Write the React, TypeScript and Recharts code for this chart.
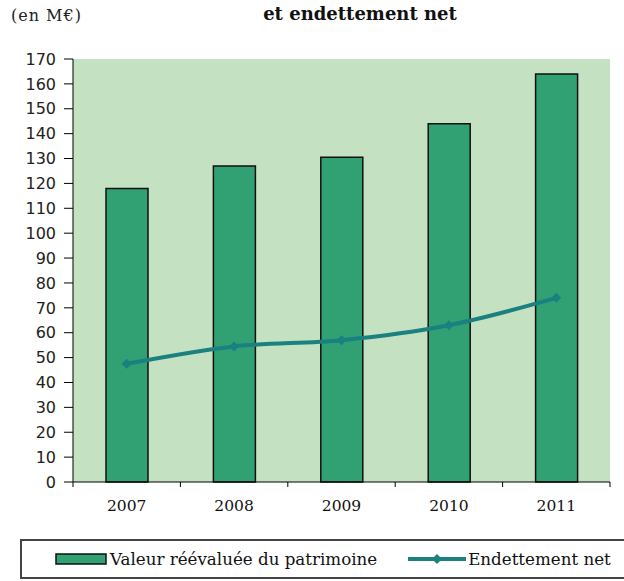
import React from "react";
import {
  ComposedChart,
  Bar,
  Line,
  XAxis,
  YAxis,
  CartesianGrid,
  Legend,
} from "recharts";

const years = ["2007", "2008", "2009", "2010", "2011"];
const patrimoine = [118, 127, 130.5, 144, 164];
const endettement = [47.5, 54.5, 57, 63, 74];
const yTicks = [0, 10, 20, 30, 40, 50, 60, 70, 80, 90, 100, 110, 120, 130, 140, 150, 160, 170];

const data = years.map((year, i) => ({
  year,
  patrimoine: patrimoine[i],
  endettement: endettement[i],
}));

const W = 624;
const H = 581;
const PLOT_LEFT = 73;
const PLOT_RIGHT = 610;
const BAND = (PLOT_RIGHT - PLOT_LEFT) / years.length;

const BAR_COLOR = "#31a072";
const LINE_COLOR = "#1b8080";
const PLOT_BG = "#c4e2c1";
const SERIF = "'DejaVu Serif', serif";
const SANS = "'DejaVu Sans', Verdana, sans-serif";

function XTick(props: any) {
  const { x, y, payload, index } = props;
  const isLast = index === years.length - 1;
  return (
    <g>
      <line x1={x - BAND / 2} y1={y - 8} x2={x - BAND / 2} y2={y - 3} stroke="#000" />
      {isLast && <line x1={x + BAND / 2} y1={y - 8} x2={x + BAND / 2} y2={y - 3} stroke="#000" />}
      <text x={x} y={y + 21} textAnchor="middle" fontFamily={SERIF} fontSize={15.5} fill="#111">
        {payload.value}
      </text>
    </g>
  );
}

function Diamond(props: any) {
  const { cx, cy } = props;
  if (cx == null || cy == null) return null;
  const r = 5;
  return <path d={`M${cx},${cy - r}L${cx + r},${cy}L${cx},${cy + r}L${cx - r},${cy}Z`} fill={LINE_COLOR} />;
}

function LegendBox() {
  return (
    <div
      style={{
        width: 610,
        height: 40,
        border: "2px solid #444",
        borderRight: "none",
        background: "#fff",
        display: "flex",
        alignItems: "center",
        fontFamily: SERIF,
        fontSize: 16.7,
        color: "#111",
        boxSizing: "border-box",
        whiteSpace: "nowrap",
      }}
    >
      <svg width={52} height={12} style={{ marginLeft: 33 }}>
        <rect x={1} y={1} width={50} height={10} fill={BAR_COLOR} stroke="#111" strokeWidth={1.5} />
      </svg>
      <span style={{ marginLeft: 3 }}>Valeur réévaluée du patrimoine</span>
      <svg width={58} height={12} style={{ marginLeft: 31 }}>
        <line x1={0} y1={6} x2={58} y2={6} stroke={LINE_COLOR} strokeWidth={4} />
        <path d="M29,1L34,6L29,11L24,6Z" fill={LINE_COLOR} />
      </svg>
      <span style={{ marginLeft: 2 }}>Endettement net</span>
    </div>
  );
}

export default function App() {
  return (
    <div style={{ position: "absolute", left: 0, top: 0, width: W, height: H, background: "#fff", overflow: "hidden" }}>
      <div
        style={{
          position: "absolute",
          left: 11,
          top: 6,
          fontFamily: SERIF,
          fontSize: 16,
          letterSpacing: 1,
          color: "#222",
        }}
      >
        (en M€)
      </div>
      <div
        style={{
          position: "absolute",
          left: 0,
          width: 720,
          top: 3,
          textAlign: "center",
          fontFamily: SERIF,
          fontSize: 18,
          fontWeight: "bold",
          color: "#111",
        }}
      >
        et endettement net
      </div>
      <ComposedChart
        width={W}
        height={H}
        data={data}
        margin={{ top: 59, right: W - PLOT_RIGHT, left: 13, bottom: 69 }}
      >
        <CartesianGrid horizontal={false} vertical={false} fill={PLOT_BG} />
        <XAxis
          dataKey="year"
          xAxisId="top"
          orientation="top"
          height={0}
          tick={false}
          tickLine={false}
          axisLine={{ stroke: "#999", strokeWidth: 1.5 }}
        />
        <XAxis
          dataKey="year"
          height={30}
          tickLine={false}
          axisLine={{ stroke: "#000" }}
          tick={<XTick />}
          interval={0}
        />
        <YAxis
          yAxisId="right"
          orientation="right"
          width={0}
          tick={false}
          tickLine={false}
          domain={[0, 170]}
          axisLine={{ stroke: "#999", strokeWidth: 1.5 }}
        />
        <YAxis
          width={60}
          domain={[0, 170]}
          ticks={yTicks}
          interval={0}
          tickSize={9}
          tickMargin={8}
          tickLine={{ stroke: "#000" }}
          axisLine={{ stroke: "#000" }}
          tick={{ fontFamily: SANS, fontSize: 16, fill: "#222" }}
        />
        <Bar
          dataKey="patrimoine"
          name="Valeur réévaluée du patrimoine"
          fill={BAR_COLOR}
          stroke="#111"
          strokeWidth={1.5}
          barSize={42}
          isAnimationActive={false}
        />
        <Line
          dataKey="endettement"
          name="Endettement net"
          type="monotone"
          stroke={LINE_COLOR}
          strokeWidth={4}
          dot={<Diamond />}
          activeDot={false}
          isAnimationActive={false}
        />
        <Legend
          layout="horizontal"
          verticalAlign="middle"
          align="center"
          content={<LegendBox />}
          wrapperStyle={{ position: "absolute", left: 20, top: 539, width: 610 }}
        />
      </ComposedChart>
    </div>
  );
}
